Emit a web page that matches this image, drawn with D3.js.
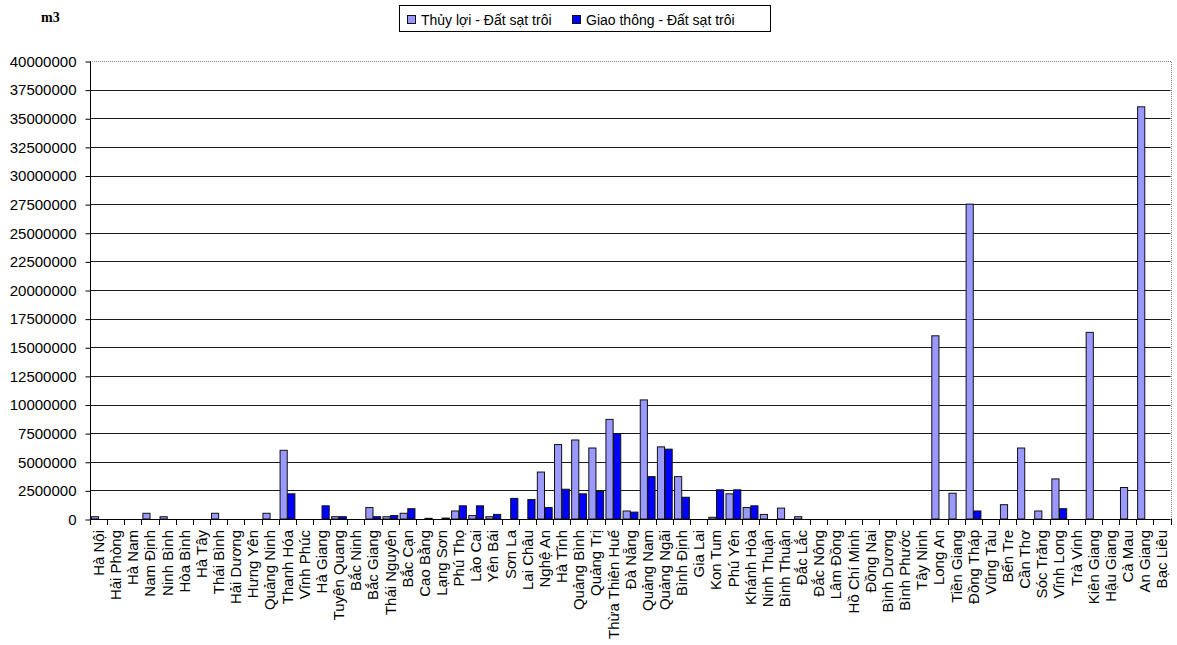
<!DOCTYPE html>
<html>
<head>
<meta charset="utf-8">
<script src="https://cdn.jsdelivr.net/npm/d3@7"></script>
<style>
  html, body { margin: 0; padding: 0; background: #fff; }
  svg { display: block; font-family: "Liberation Sans", Arial, sans-serif; }
</style>
</head>
<body>
<svg id="chart" width="1177" height="645"></svg>
<script>
// Provinces along the x axis
const provinces = [
  "Hà Nội", "Hải Phòng", "Hà Nam", "Nam Định", "Ninh Bình", "Hòa Bình", "Hà Tây",
  "Thái Bình", "Hải Dương", "Hưng Yên", "Quảng Ninh", "Thanh Hóa", "Vĩnh Phúc",
  "Hà Giang", "Tuyên Quang", "Bắc Ninh", "Bắc Giang", "Thái Nguyên", "Bắc Cạn",
  "Cao Bằng", "Lạng Sơn", "Phú Thọ", "Lào Cai", "Yên Bái", "Sơn La", "Lai Châu",
  "Nghệ An", "Hà Tĩnh", "Quảng Bình", "Quảng Trị", "Thừa Thiên Huế", "Đà Nẵng",
  "Quảng Nam", "Quảng Ngãi", "Bình Định", "Gia Lai", "Kon Tum", "Phú Yên",
  "Khánh Hòa", "Ninh Thuận", "Bình Thuận", "Đắc Lắc", "Đắc Nông", "Lâm Đồng",
  "Hồ Chí Minh", "Đồng Nai", "Bình Dương", "Bình Phước", "Tây Ninh", "Long An",
  "Tiền Giang", "Đồng Tháp", "Vũng Tàu", "Bến Tre", "Cần Thơ", "Sóc Trăng",
  "Vĩnh Long", "Trà Vinh", "Kiên Giang", "Hậu Giang", "Cà Mau", "An Giang", "Bạc Liêu"
];

// Series names
const seriesNames = ["Thủy lợi - Đất sạt trôi", "Giao thông - Đất sạt trôi"];

// Landslide volume, irrigation works (m3)
const thuyLoi = [
  200000, 0, 0, 500000, 200000, 0, 0,
  500000, 0, 0, 500000, 6000000, 0,
  0, 200000, 0, 1000000, 200000, 500000,
  0, 0, 700000, 300000, 200000, 0, 0,
  4100000, 6500000, 6900000, 6200000, 8700000, 700000,
  10400000, 6300000, 3700000, 0, 150000, 2200000,
  1000000, 400000, 950000, 200000, 0, 0,
  0, 0, 0, 0, 0, 16000000,
  2250000, 27500000, 0, 1250000, 6200000, 700000,
  3500000, 0, 16300000, 0, 2750000, 36000000, 0
];

// Landslide volume, transport works (m3)
const giaoThong = [
  0, 0, 0, 0, 0, 0, 0,
  0, 0, 0, 0, 2200000, 0,
  1150000, 200000, 0, 200000, 300000, 900000,
  60000, 80000, 1150000, 1150000, 400000, 1800000, 1700000,
  1000000, 2600000, 2200000, 2400000, 7450000, 600000,
  3700000, 6100000, 1900000, 0, 2550000, 2550000,
  1150000, 0, 0, 0, 0, 0,
  0, 0, 0, 0, 0, 0,
  0, 700000, 0, 0, 0, 0,
  900000, 0, 0, 0, 0, 0, 0
];

// Y axis tick values
const yTicks = d3.range(0, 40000001, 2500000);

const colors = ["#9999FF", "#0000FF"];
const unitLabel = "m3";

const svg = d3.select("#chart");
const plot = { left: 90, right: 1170.5, top: 61, bottom: 519 };

const x = d3.scaleBand().domain(provinces).range([plot.left, plot.right]).paddingInner(0).paddingOuter(0);
const xs = d3.scaleBand().domain(seriesNames).range([0, x.bandwidth()]).paddingInner(0).paddingOuter(0.12);
const y = d3.scaleLinear().domain([0, 40000000]).range([plot.bottom, plot.top]);

// Grid lines
svg.append("g")
  .selectAll("line")
  .data(yTicks.filter(d => d > 0 && d < 40000000))
  .join("line")
  .attr("x1", plot.left).attr("x2", plot.right)
  .attr("y1", d => Math.round(y(d)) + 0.5).attr("y2", d => Math.round(y(d)) + 0.5)
  .attr("stroke", "#1a1a1a").attr("stroke-width", 1);

// Plot area border (top and right)
svg.append("path")
  .attr("d", `M${plot.left},${plot.top + 0.5}H${Math.round(plot.right) + 0.5}V${plot.bottom}`)
  .attr("fill", "none").attr("stroke", "#888").attr("stroke-width", 1)
  .attr("stroke-dasharray", "1,1");

// Bars
const rows = provinces.map((p, i) => ({ p, vals: [thuyLoi[i], giaoThong[i]] }));
const groups = svg.append("g").selectAll("g")
  .data(rows).join("g")
  .attr("transform", d => `translate(${x(d.p)},0)`);

groups.selectAll("rect")
  .data(d => d.vals.map((v, k) => ({ v, k })).filter(e => e.v > 0))
  .join("rect")
  .attr("x", e => xs(seriesNames[e.k]) + 0.5)
  .attr("y", e => y(e.v))
  .attr("width", xs.bandwidth() - 0.5)
  .attr("height", e => Math.max(0, y(0) - y(e.v)))
  .attr("fill", e => colors[e.k])
  .attr("stroke", "#111").attr("stroke-width", 1);

// Y axis
const yAxis = svg.append("g")
  .attr("transform", `translate(${plot.left + 0.5},0.5)`)
  .call(d3.axisLeft(y).tickValues(yTicks).tickFormat(d3.format("d")).tickSize(5).tickPadding(9));
yAxis.select(".domain").attr("stroke", "#000").attr("d", `M-0,${plot.top}V${plot.bottom}`);
yAxis.selectAll(".tick line").attr("stroke", "#000");
yAxis.selectAll(".tick text")
  .attr("font-family", "'Liberation Sans', Arial, sans-serif")
  .attr("font-size", "15px").attr("fill", "#000");

// X axis: baseline, boundary ticks, rotated labels
svg.append("line")
  .attr("x1", plot.left).attr("x2", plot.right)
  .attr("y1", plot.bottom + 0.5).attr("y2", plot.bottom + 0.5)
  .attr("stroke", "#000");

const boundaries = provinces.map(p => x(p)).concat([plot.right]);
svg.append("g").selectAll("line")
  .data(boundaries).join("line")
  .attr("x1", d => Math.round(d) + 0.5).attr("x2", d => Math.round(d) + 0.5)
  .attr("y1", plot.bottom).attr("y2", plot.bottom + 6)
  .attr("stroke", "#000");

svg.append("g").selectAll("text")
  .data(provinces).join("text")
  .attr("transform", p => `translate(${x(p) + x.bandwidth() / 2},${plot.bottom + 11}) rotate(-90)`)
  .attr("text-anchor", "end")
  .attr("dy", "0.36em")
  .attr("font-size", "15px")
  .attr("fill", "#000")
  .text(p => p);

// Unit label
svg.append("text")
  .attr("x", 41).attr("y", 22)
  .attr("font-family", "'Liberation Serif', 'Times New Roman', serif")
  .attr("font-weight", "bold").attr("font-size", "14px")
  .text(unitLabel);

// Legend
const legend = svg.append("g");
legend.append("rect")
  .attr("x", 399.5).attr("y", 5.5).attr("width", 371).attr("height", 26)
  .attr("fill", "#fff").attr("stroke", "#000");
const legendX = [407, 572];
seriesNames.forEach((name, k) => {
  legend.append("rect")
    .attr("x", legendX[k] + 0.5).attr("y", 15.5).attr("width", 8).attr("height", 8)
    .attr("fill", colors[k]).attr("stroke", "#111");
  legend.append("text")
    .attr("x", legendX[k] + 14).attr("y", 24.5)
    .attr("font-size", "14px").attr("fill", "#000")
    .text(name);
});
</script>
</body>
</html>
